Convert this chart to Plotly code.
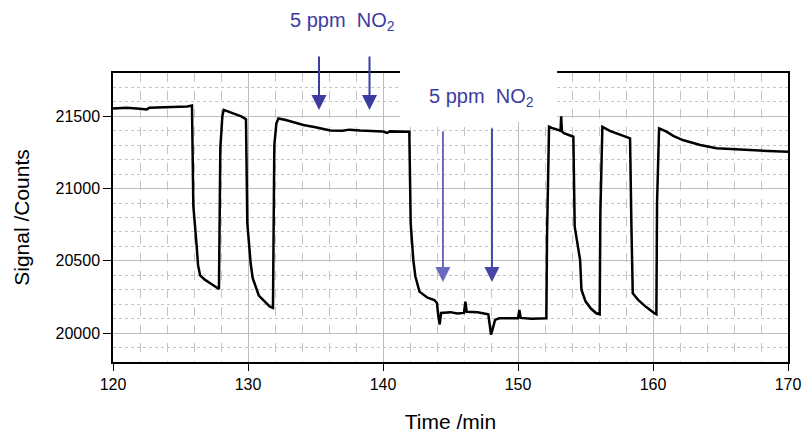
import plotly.graph_objects as go

time_min = [120.0, 121.0, 122.0, 122.5, 122.7, 123.5, 124.5, 125.5, 125.85,
            125.95, 126.2, 126.3, 126.45, 126.8, 127.2, 127.6, 127.85,
            127.95, 128.1, 128.2, 128.6, 129.0, 129.5, 129.85,
            129.95, 130.2, 130.35, 130.8, 131.2, 131.6, 131.85,
            131.95, 132.1, 132.25, 132.8, 133.5, 134.1, 135.0, 136.1, 137.0, 137.5,
            138.3, 139.0, 140.0, 140.3, 140.5, 141.95,
            142.05, 142.25, 142.4, 142.7, 143.3, 143.8, 144.0,
            144.1, 144.2, 144.3, 145.0, 145.5, 146.0, 146.1, 146.2, 147.0, 147.8,
            147.9, 148.0, 148.1, 148.3, 148.6, 149.5, 150.0, 150.1, 150.2, 151.0, 152.1,
            152.15, 152.3, 152.5, 153.15, 153.2, 153.25, 153.4, 154.1,
            154.2, 154.6, 154.7, 155.0, 155.4, 155.8, 156.05,
            156.1, 156.25, 156.8, 157.5, 158.3,
            158.4, 158.5, 158.9, 159.5, 160.1, 160.25,
            160.3, 160.45, 161.0, 161.5, 162.2, 163.0, 163.5, 164.7, 165.5, 166.0,
            167.2, 168.0, 169.0, 170.0]
signal = [21555, 21560, 21553, 21548, 21560, 21562, 21565, 21568, 21575,
          20880, 20600, 20470, 20400, 20370, 20345, 20320, 20305,
          21280, 21500, 21545, 21530, 21515, 21500, 21480,
          20760, 20480, 20380, 20260, 20220, 20185, 20175,
          21300, 21450, 21485, 21475, 21455, 21440, 21425, 21402, 21400, 21408,
          21402, 21398, 21395, 21385, 21396, 21394,
          20760, 20500, 20392, 20287, 20245, 20229, 20208,
          20114, 20060, 20139, 20145, 20135, 20140, 20217, 20148, 20145, 20130,
          20060, 19990, 20020, 20091, 20102, 20100, 20102, 20160, 20105, 20100, 20102,
          20667, 21428, 21420, 21400, 21500, 21395, 21383, 21359,
          20736, 20506, 20300, 20220, 20170, 20137, 20130,
          20829, 21428, 21400, 21375, 21348,
          20750, 20276, 20230, 20180, 20137, 20130,
          20898, 21417, 21394, 21365, 21336, 21315, 21302, 21279, 21275, 21268,
          21267, 21262, 21258, 21255]

x_ticks = [120, 130, 140, 150, 160, 170]
y_ticks = [20000, 20500, 21000, 21500]
y_tick_text = ["20000", "20500", "21000", "21500"]

label_text = "5 ppm&nbsp; NO<sub>2</sub>"
arrow_set1_x = [135.26, 139.0]
arrow_set1_y = 21544
arrow_set2_x = [144.44, 148.07]
arrow_set2_y = 20354

blue = "#3c3ca0"
font_family = "Liberation Sans, Arial, sans-serif"

fig = go.Figure()
fig.add_trace(go.Scatter(x=time_min, y=signal, mode="lines",
                         line=dict(color="black", width=2.5), showlegend=False))

fig.update_layout(
    width=805, height=435,
    margin=dict(l=113, r=17, t=73, b=73),
    paper_bgcolor="white", plot_bgcolor="white",
    font=dict(family=font_family, color="black"),
)
fig.update_xaxes(
    range=[120, 170], tickvals=x_ticks, ticks="outside", ticklen=7, tickcolor="black",
    tickfont=dict(size=16), showline=True, linecolor="black", linewidth=1.5, mirror=True,
    showgrid=True, gridcolor="#bdbdbd", gridwidth=1,
    minor=dict(dtick=2, showgrid=True, gridcolor="#c4c4c4", griddash="dash", ticks=""),
    title=dict(text="Time /min", font=dict(size=21), standoff=22),
    zeroline=False, automargin=False,
)
fig.update_yaxes(
    range=[19800, 21800], tickvals=y_ticks, ticktext=y_tick_text, ticks="outside",
    ticklen=8, tickcolor="black",
    tickfont=dict(size=16), showline=True, linecolor="black", linewidth=1.5, mirror=True,
    showgrid=True, gridcolor="#bdbdbd", gridwidth=1,
    minor=dict(dtick=100, showgrid=True, gridcolor="#c4c4c4", griddash="dot", ticks=""),
    title=dict(text="Signal /Counts", font=dict(size=21), standoff=20),
    zeroline=False, automargin=False,
)

# white box covering the top border behind the second label
fig.add_shape(type="rect", xref="x", yref="paper",
              x0=141.26, x1=152.9, y0=(362 - 122) / 289, y1=(362 - 60) / 289,
              fillcolor="white", line=dict(width=0), layer="above")
fig.add_annotation(x=147.3, y=(362 - 97) / 289, xref="x", yref="paper", text=label_text,
                   showarrow=False, font=dict(size=20, color=blue),
                   xanchor="center", yanchor="middle")
fig.add_annotation(x=137.0, y=(362 - 22) / 289, xref="x", yref="paper", text=label_text,
                   showarrow=False, font=dict(size=20, color=blue),
                   xanchor="center", yanchor="middle")

for xv in arrow_set1_x:
    fig.add_annotation(x=xv, y=arrow_set1_y, xref="x", yref="y", text="",
                       showarrow=True, arrowhead=2, arrowsize=1.5, arrowwidth=2,
                       arrowcolor=blue, ax=0, ay=-55, standoff=0)
for xv, ay, col in zip(arrow_set2_x, [-152, -155], ["#6a6ac0", "#4545a8"]):
    fig.add_annotation(x=xv, y=arrow_set2_y, xref="x", yref="y", text="",
                       showarrow=True, arrowhead=2, arrowsize=1.5, arrowwidth=2,
                       arrowcolor=col, ax=0, ay=ay, standoff=0)

fig.write_html("out.html")
